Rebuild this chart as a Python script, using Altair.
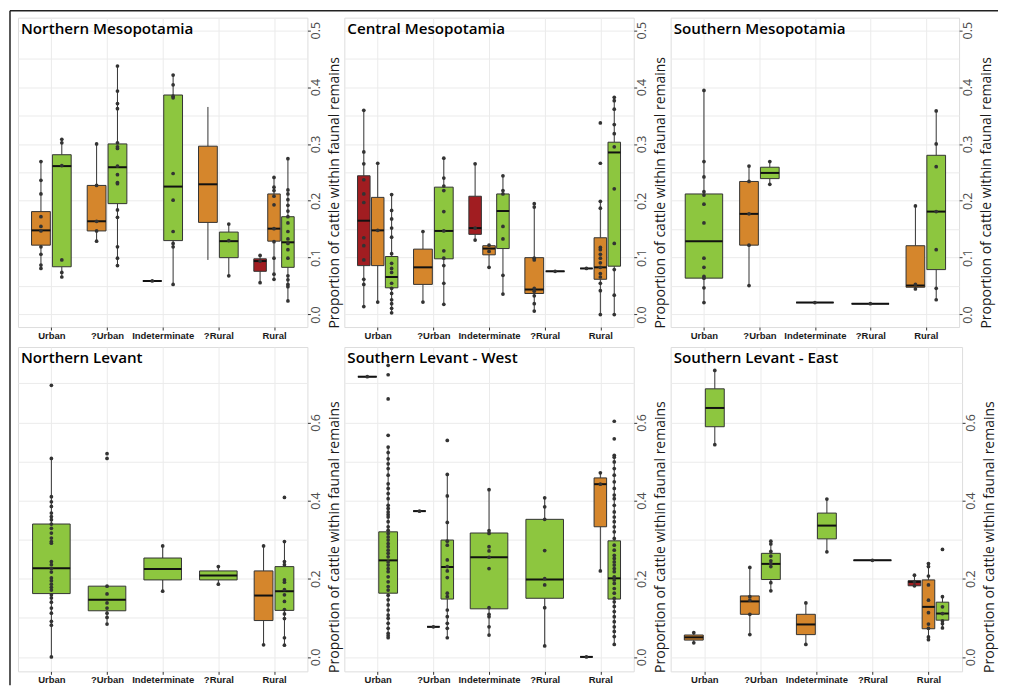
import json
import altair as alt
import pandas as pd

CATEGORIES = ["Urban", "?Urban", "Indeterminate", "?Rural", "Rural"]
GROUPS = ["red", "orange", "green"]
GROUP_COLORS = ["#A11D21", "#D5862C", "#8DC63F"]
Y_TITLE = "Proportion of cattle within faunal remains"
TOP_TICKS = [0.0, 0.05, 0.1, 0.15, 0.2, 0.25, 0.3, 0.35, 0.4, 0.45, 0.5]
BOTTOM_TICKS = [0.0, 0.1, 0.2, 0.3, 0.4, 0.5, 0.6, 0.7]
TOP_DOMAIN = [-0.022, 0.522]
BOTTOM_DOMAIN = [-0.037, 0.793]

# ---------------- Northern Mesopotamia ----------------
NM_CAT = ["Urban", "Urban", "?Urban", "?Urban", "Indeterminate", "Indeterminate",
          "?Rural", "?Rural", "Rural", "Rural", "Rural"]
NM_GRP = ["orange", "green", "orange", "green", "orange", "green",
          "orange", "green", "red", "orange", "green"]
NM_Q1 = [0.122, 0.084, 0.147, 0.195, 0.059, 0.130, 0.162, 0.100, 0.076, 0.129, 0.083]
NM_MED = [0.148, 0.261, 0.164, 0.259, 0.059, 0.225, 0.229, 0.129, 0.094, 0.151, 0.127]
NM_Q3 = [0.181, 0.281, 0.227, 0.300, 0.059, 0.386, 0.296, 0.145, 0.098, 0.212, 0.172]
NM_LO = [0.081, 0.066, 0.129, 0.086, 0.059, 0.053, 0.096, 0.068, 0.056, 0.062, 0.024]
NM_HI = [0.269, 0.308, 0.300, 0.437, 0.059, 0.421, 0.365, 0.159, 0.104, 0.241, 0.274]
NM_PTS = [
    [0.269, 0.236, 0.212, 0.172, 0.155, 0.147, 0.119, 0.106, 0.087, 0.081],
    [0.308, 0.302, 0.262, 0.096, 0.074, 0.066],
    [0.300, 0.227, 0.164, 0.147, 0.129],
    [0.437, 0.393, 0.371, 0.362, 0.302, 0.295, 0.292, 0.261, 0.246, 0.232, 0.230,
     0.184, 0.171, 0.119, 0.099, 0.086],
    [0.059],
    [0.421, 0.404, 0.384, 0.381, 0.248, 0.201, 0.146, 0.125, 0.119, 0.053],
    [],
    [0.159, 0.130, 0.068],
    [0.104, 0.094, 0.056],
    [0.241, 0.224, 0.218, 0.208, 0.193, 0.151, 0.128, 0.099, 0.071, 0.062],
    [0.274, 0.219, 0.212, 0.202, 0.192, 0.182, 0.172, 0.161, 0.146, 0.133, 0.125,
     0.114, 0.099, 0.068, 0.061, 0.053, 0.049, 0.024],
]

# ---------------- Central Mesopotamia ----------------
CM_CAT = ["Urban", "Urban", "Urban", "?Urban", "?Urban", "Indeterminate", "Indeterminate",
          "Indeterminate", "?Rural", "?Rural", "Rural", "Rural", "Rural"]
CM_GRP = ["red", "orange", "green", "orange", "green", "red", "orange", "green",
          "orange", "green", "red", "orange", "green"]
CM_Q1 = [0.086, 0.086, 0.047, 0.053, 0.098, 0.141, 0.105, 0.116, 0.037, 0.076, 0.081, 0.062, 0.085]
CM_MED = [0.165, 0.148, 0.066, 0.083, 0.147, 0.152, 0.116, 0.182, 0.044, 0.076, 0.081, 0.083, 0.285]
CM_Q3 = [0.244, 0.206, 0.102, 0.115, 0.224, 0.208, 0.121, 0.212, 0.100, 0.076, 0.081, 0.135, 0.303]
CM_LO = [0.014, 0.022, 0.003, 0.022, 0.018, 0.131, 0.083, 0.036, 0.006, 0.076, 0.081, 0.000, 0.000]
CM_HI = [0.359, 0.266, 0.211, 0.146, 0.275, 0.265, 0.122, 0.244, 0.195, 0.076, 0.081, 0.199, 0.382]
CM_PTS = [
    [0.359, 0.286, 0.265, 0.237, 0.212, 0.197, 0.135, 0.121, 0.096, 0.062, 0.053, 0.014],
    [0.266, 0.148, 0.022],
    [0.211, 0.183, 0.168, 0.152, 0.136, 0.107, 0.090, 0.081, 0.074, 0.055, 0.046,
     0.037, 0.026, 0.019, 0.011, 0.003],
    [0.146, 0.022],
    [0.275, 0.240, 0.226, 0.218, 0.181, 0.147, 0.112, 0.099, 0.086, 0.055, 0.018],
    [0.265, 0.152, 0.131],
    [0.122, 0.111, 0.083],
    [0.244, 0.218, 0.212, 0.155, 0.133, 0.069, 0.036],
    [0.195, 0.189, 0.099, 0.096, 0.046, 0.041, 0.033, 0.019, 0.006],
    [0.076],
    [0.081],
    [0.337, 0.266, 0.199, 0.187, 0.118, 0.114, 0.106, 0.099, 0.091, 0.083, 0.072,
     0.066, 0.055, 0.042, 0.000],
    [0.382, 0.376, 0.361, 0.334, 0.318, 0.295, 0.221, 0.125, 0.079, 0.034, 0.000],
]

# ---------------- Southern Mesopotamia ----------------
SM_CAT = ["Urban", "?Urban", "?Urban", "Indeterminate", "?Rural", "Rural", "Rural"]
SM_GRP = ["green", "orange", "green", "green", "green", "orange", "green"]
SM_Q1 = [0.064, 0.122, 0.239, 0.021, 0.019, 0.048, 0.079]
SM_MED = [0.129, 0.177, 0.249, 0.021, 0.019, 0.051, 0.181]
SM_Q3 = [0.212, 0.234, 0.259, 0.021, 0.019, 0.121, 0.280]
SM_LO = [0.021, 0.051, 0.229, 0.021, 0.019, 0.045, 0.026]
SM_HI = [0.394, 0.261, 0.269, 0.021, 0.019, 0.191, 0.358]
SM_PTS = [
    [0.394, 0.269, 0.242, 0.216, 0.210, 0.194, 0.161, 0.099, 0.083, 0.067, 0.064, 0.047, 0.021],
    [0.261, 0.234, 0.177, 0.122, 0.051],
    [0.269, 0.229],
    [0.021],
    [0.019],
    [0.191, 0.053, 0.045],
    [0.358, 0.300, 0.260, 0.181, 0.114, 0.046, 0.026],
]

# ---------------- Northern Levant ----------------
NL_CAT = ["Urban", "?Urban", "Indeterminate", "?Rural", "Rural", "Rural"]
NL_GRP = ["green", "green", "green", "green", "orange", "green"]
NL_Q1 = [0.162, 0.118, 0.197, 0.197, 0.093, 0.119]
NL_MED = [0.227, 0.146, 0.225, 0.208, 0.157, 0.168]
NL_Q3 = [0.340, 0.181, 0.253, 0.220, 0.220, 0.231]
NL_LO = [0.000, 0.084, 0.168, 0.186, 0.031, 0.030]
NL_HI = [0.508, 0.181, 0.284, 0.231, 0.284, 0.295]
NL_PTS = [
    [0.695, 0.508, 0.410, 0.397, 0.385, 0.368, 0.359, 0.351, 0.340, 0.329, 0.317, 0.304,
     0.295, 0.291, 0.244, 0.236, 0.226, 0.217, 0.202, 0.195, 0.186, 0.178, 0.171, 0.159,
     0.151, 0.140, 0.125, 0.112, 0.091, 0.081, 0.000],
    [0.520, 0.508, 0.181, 0.161, 0.138, 0.125, 0.112, 0.101, 0.084],
    [0.284, 0.168],
    [0.231, 0.186],
    [0.284, 0.031],
    [0.408, 0.295, 0.244, 0.236, 0.197, 0.191, 0.172, 0.159, 0.142, 0.121, 0.110, 0.098,
     0.049, 0.030],
]

# ---------------- Southern Levant - West ----------------
SW_CAT = ["Urban", "Urban", "?Urban", "?Urban", "?Urban", "Indeterminate", "?Rural",
          "Rural", "Rural", "Rural"]
SW_GRP = ["orange", "green", "red", "orange", "green", "green", "green", "red", "orange", "green"]
SW_Q1 = [0.717, 0.163, 0.373, 0.077, 0.148, 0.123, 0.150, 0.000, 0.333, 0.148]
SW_MED = [0.717, 0.247, 0.373, 0.077, 0.230, 0.255, 0.198, 0.000, 0.442, 0.201]
SW_Q3 = [0.717, 0.320, 0.373, 0.077, 0.299, 0.317, 0.352, 0.000, 0.458, 0.297]
SW_LO = [0.717, 0.049, 0.373, 0.077, 0.049, 0.056, 0.028, 0.000, 0.220, 0.032]
SW_HI = [0.717, 0.537, 0.373, 0.077, 0.467, 0.428, 0.407, 0.000, 0.471, 0.516]
SW_PTS = [
    [0.717],
    [0.746, 0.722, 0.660, 0.567, 0.537, 0.523, 0.507, 0.494, 0.482, 0.465, 0.443, 0.431,
     0.418, 0.405, 0.388, 0.380, 0.371, 0.364, 0.358, 0.346, 0.333, 0.324, 0.316, 0.307,
     0.299, 0.290, 0.282, 0.273, 0.265, 0.256, 0.243, 0.235, 0.226, 0.218, 0.205, 0.192,
     0.180, 0.171, 0.158, 0.146, 0.133, 0.120, 0.107, 0.099, 0.086, 0.073, 0.060, 0.054, 0.049],
    [0.373],
    [0.077],
    [0.554, 0.467, 0.412, 0.344, 0.296, 0.286, 0.248, 0.231, 0.220, 0.203, 0.163, 0.154,
     0.120, 0.103, 0.086, 0.073, 0.049],
    [0.428, 0.323, 0.316, 0.282, 0.271, 0.255, 0.226, 0.126, 0.109, 0.103, 0.077, 0.056],
    [0.407, 0.384, 0.352, 0.272, 0.200, 0.184, 0.126, 0.028],
    [0.000],
    [0.471, 0.442, 0.220],
    [0.603, 0.558, 0.516, 0.511, 0.499, 0.482, 0.465, 0.448, 0.431, 0.414, 0.405, 0.388,
     0.371, 0.358, 0.346, 0.333, 0.320, 0.303, 0.286, 0.273, 0.260, 0.252, 0.243, 0.235,
     0.226, 0.218, 0.205, 0.197, 0.188, 0.175, 0.163, 0.150, 0.141, 0.129, 0.116, 0.103,
     0.090, 0.077, 0.065, 0.052, 0.032],
]

# ---------------- Southern Levant - East ----------------
SE_CAT = ["Urban", "Urban", "?Urban", "?Urban", "Indeterminate", "Indeterminate", "?Rural",
          "Rural", "Rural", "Rural"]
SE_GRP = ["orange", "green", "orange", "green", "orange", "green", "green", "red", "orange", "green"]
SE_Q1 = [0.043, 0.589, 0.109, 0.198, 0.057, 0.302, 0.247, 0.182, 0.072, 0.094]
SE_MED = [0.050, 0.637, 0.142, 0.238, 0.083, 0.336, 0.247, 0.192, 0.128, 0.111]
SE_Q3 = [0.056, 0.686, 0.156, 0.265, 0.109, 0.368, 0.247, 0.195, 0.197, 0.140]
SE_LO = [0.036, 0.543, 0.057, 0.169, 0.032, 0.269, 0.247, 0.182, 0.044, 0.074]
SE_HI = [0.062, 0.733, 0.229, 0.296, 0.138, 0.404, 0.247, 0.209, 0.239, 0.154]
SE_PTS = [
    [0.062, 0.036],
    [0.733, 0.543],
    [0.229, 0.154, 0.145, 0.109, 0.057],
    [0.296, 0.289, 0.270, 0.258, 0.246, 0.239, 0.231, 0.190, 0.169],
    [0.138, 0.032],
    [0.404, 0.269],
    [0.247],
    [0.209, 0.192, 0.182],
    [0.239, 0.231, 0.207, 0.184, 0.145, 0.113, 0.084, 0.073, 0.051, 0.044],
    [0.275, 0.154, 0.128, 0.111, 0.092, 0.085, 0.074],
]

STROKE = "#333333"


def panel(title, cats, grps, q1, med, q3, lo, hi, pts, ydom, ticks, major, width, height,
          title_y, frame=False):
    box_rows, pt_rows = [], []
    for i, (c, g) in enumerate(zip(cats, grps)):
        present = [gg for cc, gg in zip(cats, grps) if cc == c]
        n = len(present)
        k = present.index(g)
        slot = 0.75 / n
        xc = CATEGORIES.index(c) + 1 + (k - (n - 1) / 2) * slot
        hw = slot * 0.9 / 2
        box_rows.append(dict(cat=c, grp=g, q1=q1[i], med=med[i], q3=q3[i], lo=lo[i], hi=hi[i],
                             xc=xc, x0=xc - hw, x1=xc + hw))
        for v in pts[i]:
            pt_rows.append(dict(grp=g, xc=xc, value=v))
    boxes = pd.DataFrame(box_rows)
    points = pd.DataFrame(pt_rows)

    label_expr = json.dumps(CATEGORIES) + "[round(datum.value) - 1]"
    xaxis = alt.Axis(values=[1, 2, 3, 4, 5], labelExpr=label_expr, title=None, grid=True,
                     gridColor="#EBEBEB", gridWidth=1, domain=False, tickSize=3,
                     tickColor=STROKE, labelFont="Liberation Sans", labelFontWeight="bold",
                     labelFontSize=9.5, labelColor="#1a1a1a", labelPadding=0,
                     labelAngle=0)
    xscale = alt.Scale(domain=[0.4, 5.6], nice=False, zero=False)
    step = int(round(major * 100))
    is_major = f"abs(round(datum.value * 100)) % {step} == 0"
    yaxis = alt.Axis(orient="right", values=ticks, title=Y_TITLE,
                     labelExpr=f"{is_major} ? format(datum.value, '.1f') : ''",
                     grid=True, gridColor="#EBEBEB", gridWidth=1, domain=False,
                     tickSize=3, tickColor=STROKE,
                     tickOpacity={"condition": {"test": is_major, "value": 1}, "value": 0},
                     labelAngle=270, labelAlign="center", labelBaseline="middle",
                     labelPadding=5, labelFont="Open Sans", labelFontSize=12.5,
                     labelColor="#4d4d4d",
                     titleFont="Open Sans", titleFontSize=14, titleFontWeight="normal",
                     titleColor="#1a1a1a", titleAngle=270, titleAlign="center",
                     titleBaseline="middle", titleX=27, titleY=title_y)
    yscale = alt.Scale(domain=ydom, nice=False, zero=False)
    color = alt.Color("grp:N", scale=alt.Scale(domain=GROUPS, range=GROUP_COLORS), legend=None)

    def X(f):
        return alt.X(f"{f}:Q", scale=xscale, axis=xaxis)

    def Y(f):
        return alt.Y(f"{f}:Q", scale=yscale, axis=yaxis)

    base = alt.Chart(boxes)
    w_low = base.mark_rule(color=STROKE, strokeWidth=1).encode(x=X("xc"), y=Y("lo"), y2="q1")
    w_high = base.mark_rule(color=STROKE, strokeWidth=1).encode(x=X("xc"), y=Y("q3"), y2="hi")
    rect = base.mark_rect(stroke=STROKE, strokeWidth=1).encode(
        x=X("x0"), x2="x1", y=Y("q1"), y2="q3", fill=color)
    median = base.mark_rule(color="#111111", strokeWidth=2).encode(x=X("x0"), x2="x1", y=Y("med"))
    dots = alt.Chart(points).mark_circle(size=14, color=STROKE, opacity=1).encode(
        x=X("xc"), y=Y("value"))
    label = alt.Chart(pd.DataFrame({"t": [title]})).mark_text(
        align="left", baseline="top", font="Open Sans", fontWeight=600, fontSize=15.2,
        color="#000000").encode(text="t:N", x=alt.value(3), y=alt.value(4))
    layers = [w_low, w_high, rect, median, dots, label]
    if frame:
        # outer figure frame (top and left edges)
        fr = alt.Chart(pd.DataFrame({"t": [title]}))
        layers.append(fr.mark_rule(color="#222222", strokeWidth=1.5).encode(
            x=alt.value(-8), x2=alt.value(982), y=alt.value(-7)))
        layers.append(fr.mark_rule(color="#222222", strokeWidth=1.5).encode(
            x=alt.value(-8), y=alt.value(-7), y2=alt.value(669)))
    return alt.layer(*layers).properties(width=width, height=height)


p1 = panel("Northern Mesopotamia", NM_CAT, NM_GRP, NM_Q1, NM_MED, NM_Q3, NM_LO, NM_HI, NM_PTS,
           TOP_DOMAIN, TOP_TICKS, 0.1, 290, 310, 175, frame=True)
p2 = panel("Central Mesopotamia", CM_CAT, CM_GRP, CM_Q1, CM_MED, CM_Q3, CM_LO, CM_HI, CM_PTS,
           TOP_DOMAIN, TOP_TICKS, 0.1, 290, 310, 175)
p3 = panel("Southern Mesopotamia", SM_CAT, SM_GRP, SM_Q1, SM_MED, SM_Q3, SM_LO, SM_HI, SM_PTS,
           TOP_DOMAIN, TOP_TICKS, 0.1, 289, 310, 175)
p4 = panel("Northern Levant", NL_CAT, NL_GRP, NL_Q1, NL_MED, NL_Q3, NL_LO, NL_HI, NL_PTS,
           BOTTOM_DOMAIN, BOTTOM_TICKS, 0.2, 290, 325, 190)
p5 = panel("Southern Levant - West", SW_CAT, SW_GRP, SW_Q1, SW_MED, SW_Q3, SW_LO, SW_HI, SW_PTS,
           BOTTOM_DOMAIN, BOTTOM_TICKS, 0.2, 290, 325, 190)
p6 = panel("Southern Levant - East", SE_CAT, SE_GRP, SE_Q1, SE_MED, SE_Q3, SE_LO, SE_HI, SE_PTS,
           BOTTOM_DOMAIN, BOTTOM_TICKS, 0.2, 292, 325, 190)

chart = alt.concat(p1, p2, p3, p4, p5, p6, columns=3, bounds="flush", align="each",
                   spacing={"row": 20, "column": 37}).properties(
    padding={"left": 0, "top": 0, "right": 2, "bottom": 2}
).configure_view(stroke=STROKE, strokeWidth=1).configure(background="white")

chart.save("out.html", embed_options={"renderer": "svg", "actions": False})
